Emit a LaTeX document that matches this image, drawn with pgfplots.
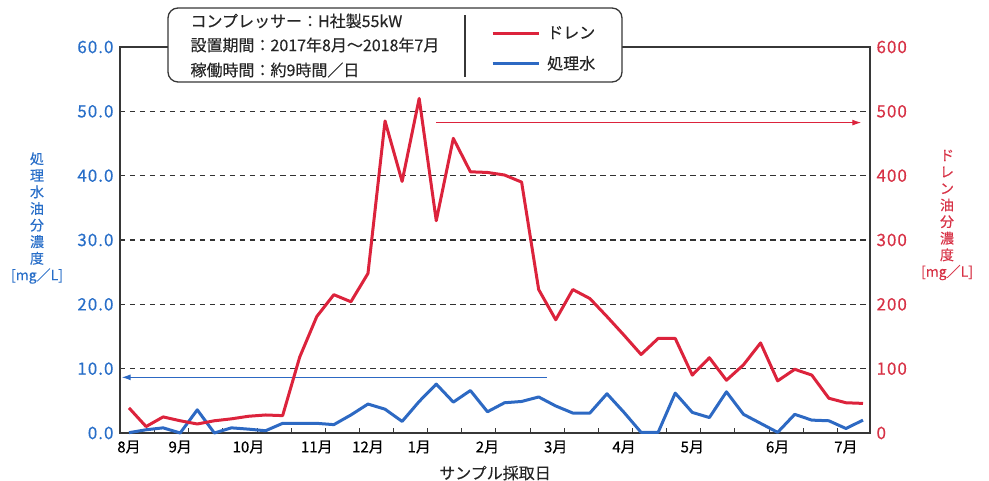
\documentclass[border=0pt]{standalone}
\usepackage{pgfplots}
\pgfplotsset{compat=1.18}
\usepackage{pgfplotstable}
\usepackage{fontspec}
\setmainfont{Noto Sans CJK JP}[FakeBold=0.35]
\usetikzlibrary{arrows.meta}
\definecolor{cblue}{RGB}{45,105,195}
\definecolor{cred}{RGB}{220,35,60}
\definecolor{tblue}{RGB}{40,110,200}
\definecolor{tred}{RGB}{215,50,70}
\definecolor{frame}{RGB}{55,55,55}

\pgfplotstableread{
i v
0 0.05
1 0.5
2 0.8
3 0
4 3.6
5 0
6 0.8
7 0.6
8 0.35
9 1.5
10 1.5
11 1.5
12 1.3
13 2.8
14 4.5
15 3.7
16 1.8
17 4.9
18 7.6
19 4.8
20 6.6
21 3.3
22 4.7
23 4.9
24 5.6
25 4.2
26 3.1
27 3.1
28 6.1
29 3.2
30 0.1
31 0.1
32 6.2
33 3.2
34 2.4
35 6.4
36 2.9
37 1.5
38 0.1
39 2.9
40 2.0
41 1.9
42 0.7
43 2.0
}\bluedata

\pgfplotstableread{
i v
0 39
1 10
2 25
3 19
4 14
5 19
6 22
7 26
8 28
9 27
10 118
11 181
12 215
13 204
14 248
15 485
16 391
17 520
18 330
19 458
20 406
21 405
22 401
23 390
24 223
25 176
26 223
27 209
28 181
29 152
30 122
31 147
32 147
33 90
34 117
35 82
36 106
37 140
38 81
39 99
40 90
41 54
42 47
43 46
}\reddata

\begin{document}
\begin{tikzpicture}[x=1pt,y=1pt]
\useasboundingbox (-120,-48) rectangle (869,433);
\pgfplotsset{
  base/.style={scale only axis, width=750pt, height=386pt, at={(0,0)}, anchor=south west,
    xmin=-0.527, xmax=43.41, ymin=0, clip=false,
    /pgf/number format/assume math mode=true,
    tick label style={font=\fontsize{15}{18}\selectfont},
    yticklabel style={font=\fontsize{17}{20}\selectfont\addfontfeature{LetterSpace=6}},
    every axis plot/.append style={line join=round},
  }
}
\begin{axis}[base,
  ymax=60, ytick={0,10,...,60},
  yticklabel style={text=tblue, xshift=-3pt, /pgf/number format/.cd, fixed, fixed zerofill, precision=1},
  ytick pos=left,
  xtick={0,3,7,11,14,17,21,25,29,33,38,42},
  xticklabels={8月,9月,10月,11月,12月,1月,2月,3月,4月,5月,6月,7月},
  xticklabel style={yshift=-4pt},
  xtick pos=bottom,
  minor xtick={1.5,3.5,...,41.5},
  major tick length=0pt, minor tick length=5pt, tick align=inside,
  tick style={frame, line width=1pt},
  axis line style={frame, line width=1.3pt},
  ymajorgrids,
  grid style={draw={rgb,255:red,50;green,50;blue,50}, line width=1.4pt, dash pattern=on 5.5pt off 4.5pt},
]
\addplot[cblue, line width=3pt, no marks] table[x=i,y=v] {\bluedata};
\addplot[cblue, line width=1.1pt, no marks, forget plot, -{Latex[length=9pt,width=6pt]}] coordinates {(24.47,8.65) (-0.43,8.65)};
\end{axis}

% info box
\draw[frame, line width=1.3pt, fill=white, rounded corners=10pt] (48,351) rectangle (502,425);
\draw[frame, line width=1.3pt] (345,356) -- (345,418);
\node[anchor=west, font=\fontsize{16}{18}\selectfont, text=black!85] at (67,412) {コンプレッサー：H社製55kW};
\node[anchor=west, font=\fontsize{16}{18}\selectfont, text=black!85] at (67,388) {設置期間：2017年8月～2018年7月};
\node[anchor=west, font=\fontsize{16}{18}\selectfont, text=black!85] at (67,363) {稼働時間：約9時間／日};

% axis titles
\node[align=center, text=tblue, font=\fontsize{14}{16.6}\selectfont] at (-83,215) {処\\理\\水\\油\\分\\濃\\度\\{[}mg／L{]}};
\node[align=center, text=tred, font=\fontsize{14}{16.6}\selectfont] at (827,218) {ド\\レ\\ン\\油\\分\\濃\\度\\{[}mg／L{]}};
\node[font=\fontsize{16}{18}\selectfont, text=black!85] at (375,-40) {サンプル採取日};

\begin{axis}[base,
  ymax=600, ytick={0,100,...,600},
  yticklabel style={text=tred, xshift=3pt},
  axis x line=none, axis y line*=right,
  y axis line style={frame, line width=1.3pt},
  major tick length=0pt,
  legend style={at={(0.4907,1.0648)}, anchor=north west, draw=none, fill=none,
    font=\fontsize{16}{18}\selectfont, text=black!85, row sep=12pt,
    nodes={inner sep=2pt},
    /tikz/every odd column/.append style={column sep=5pt}},
  legend image code/.code={\draw[#1] (0pt,0pt) -- (46pt,0pt);},
  legend cell align=left,
]
\addplot[cred, line width=3pt, no marks] table[x=i,y=v] {\reddata};
\addlegendentry{ドレン}
\addlegendimage{cblue, line width=3pt}
\addlegendentry{処理水}
\addplot[cred, line width=1.1pt, no marks, forget plot, -{Latex[length=9pt,width=6pt]}] coordinates {(18.0,482.5) (42.9,482.5)};
\end{axis}
\end{tikzpicture}
\end{document}
